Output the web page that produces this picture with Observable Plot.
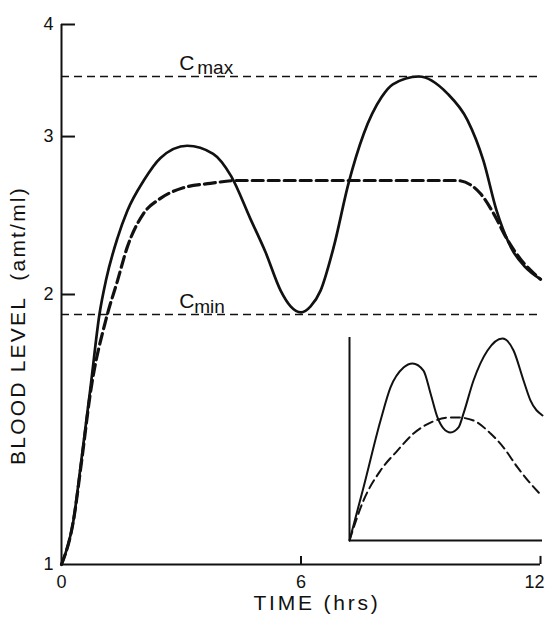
<!DOCTYPE html>
<html><head><meta charset="utf-8">
<script src="https://cdn.jsdelivr.net/npm/d3@7"></script>
<script src="https://cdn.jsdelivr.net/npm/@observablehq/plot@0.6"></script>
<style>
body{margin:0;background:#fff}
#wrap{position:relative;width:548px;height:619px;background:#fff}
#inset{position:absolute;left:349px;top:337px}
</style>
</head><body><div id="wrap"><div id="main"></div><div id="inset"></div></div>
<script>
// ---- data ----
const solidT = [0, 0.3, 0.5, 0.73, 0.95, 1.12, 1.4, 1.65, 2.06, 2.48, 3.15, 3.8, 4.25, 4.73, 5.11, 5.49, 5.74, 6.0, 6.24, 6.49, 6.82, 7.19, 7.57, 8.02, 8.3, 8.95, 9.67, 10.17, 10.57, 10.9, 11.3, 11.6, 12];
const solidV = [1.0, 1.12, 1.31, 1.58, 1.90, 2.08, 2.31, 2.48, 2.68, 2.84, 2.93, 2.87, 2.71, 2.43, 2.23, 2.02, 1.94, 1.91, 1.94, 2.02, 2.26, 2.66, 3.02, 3.32, 3.43, 3.50, 3.35, 3.13, 2.82, 2.48, 2.24, 2.15, 2.08];
const dashT = [0, 0.3, 0.5, 0.73, 1.12, 1.4, 1.65, 2.05, 2.48, 3.05, 3.73, 4.4, 5, 6, 7, 8, 9, 9.9, 10.25, 10.5, 10.83, 11.15, 11.5, 12];
const dashV = [1.0, 1.12, 1.30, 1.56, 1.88, 2.07, 2.26, 2.46, 2.56, 2.63, 2.66, 2.68, 2.68, 2.68, 2.68, 2.68, 2.68, 2.68, 2.65, 2.59, 2.46, 2.31, 2.19, 2.08];
const cMax = 3.5, cMin = 1.9;
const levelNames = ["C", "max", "min"];
const yLabels = [1, 2, 3, 4];
const yTickMarks = [2, 3, 4];
const xLabels = [0, 6, 12];
const xTickMarks = [6, 12];
const xTitle = "TIME (hrs)";
const yTitle = "BLOOD LEVEL  (amt/ml)";
const labelT = 2.95;
// inset (arbitrary units, unlabelled)
const insetSolidT = [0, 0.87, 1.93, 2.55, 3.36, 3.92, 4.6, 5.04, 5.47, 5.84, 6.28, 6.78, 7.09, 7.71, 8.58, 9.51, 10.2, 10.82, 11.25, 12];
const insetSolidV = [0, 26.1, 59.1, 75.4, 85.2, 87.2, 83.7, 72.4, 60.6, 55.2, 53.2, 55.7, 62.6, 78.8, 93.6, 99.5, 93.6, 78.8, 69, 61.6];
const insetDashT = [0, 0.87, 1.93, 2.98, 3.98, 5.04, 6.28, 6.72, 7.71, 8.77, 9.58, 10.45, 11.25, 11.81];
const insetDashV = [0, 19.7, 34.5, 44.3, 52.7, 58.1, 60.6, 60.6, 59.1, 52.7, 45.8, 36, 28.1, 23.2];

const zip = (T, V) => T.map((t, i) => ({t, v: V[i]}));
const solid = zip(solidT, solidV);
const dashed = zip(dashT, dashV);
const font = "Liberation Sans, Arial, sans-serif";
const ink = "#111";
const yTickLen = 0.35;   // inward tick length (hours)
const xTickTop = 1.021;  // inward tick top (log units)

const main = Plot.plot({
  width: 548, height: 619,
  marginLeft: 61, marginRight: 8, marginTop: 24, marginBottom: 55,
  style: {fontFamily: font, background: "#fff", color: ink},
  x: {domain: [0, 12]},
  y: {type: "log", domain: [1, 4]},
  marks: [
    Plot.ruleY([cMax, cMin], {stroke: ink, strokeWidth: 1.3, strokeDasharray: "8,5"}),
    Plot.line(dashed, {x: "t", y: "v", curve: "monotone-x", stroke: ink, strokeWidth: 3.2, strokeDasharray: "11,5"}),
    Plot.line(solid, {x: "t", y: "v", curve: "monotone-x", stroke: ink, strokeWidth: 2.7}),
    Plot.ruleX([0], {stroke: ink, strokeWidth: 2}),
    Plot.ruleY([1], {stroke: ink, strokeWidth: 2}),
    Plot.ruleY(yTickMarks, {x1: 0, x2: yTickLen, stroke: ink, strokeWidth: 2}),
    Plot.ruleX(xTickMarks, {y1: 1, y2: xTickTop, stroke: ink, strokeWidth: 2}),
    Plot.axisY({ticks: yLabels, tickSize: 0, tickPadding: 8, fontSize: 18, label: null}),
    Plot.axisX({ticks: xLabels, tickSize: 0, tickPadding: 11, fontSize: 18, label: null}),
    Plot.text([levelNames[0]], {x: labelT, y: cMax, dy: -7, fontSize: 21, textAnchor: "start", lineAnchor: "bottom", fill: ink}),
    Plot.text([levelNames[1]], {x: labelT, y: cMax, dx: 18, dy: -3, fontSize: 19, textAnchor: "start", lineAnchor: "bottom", fill: ink}),
    Plot.text([levelNames[0]], {x: labelT, y: cMin, dy: -6, fontSize: 21, textAnchor: "start", lineAnchor: "bottom", fill: ink}),
    Plot.text([levelNames[2]], {x: labelT, y: cMin, dx: 15, dy: -1, fontSize: 19, textAnchor: "start", lineAnchor: "bottom", fill: ink}),
    Plot.text([xTitle], {frameAnchor: "bottom", textAnchor: "middle", dx: 16, dy: 45, fontSize: 21, fill: ink}),
    Plot.text([yTitle], {frameAnchor: "left", textAnchor: "middle", rotate: -90, dx: -43, dy: 31, fontSize: 21, fill: ink})
  ]
});
d3.select(main).selectAll("g[aria-label$='tick label']").attr("font-size", 18).style("font-size", "18px");
d3.select(main).selectAll("text").each(function() {
  const s = this.textContent;
  if (s === xTitle) this.style.letterSpacing = "2.8px";
  if (s === yTitle) this.style.letterSpacing = "2.2px";
  if (s === "12" && this.closest("g[aria-label='x-axis tick label']")) {
    this.setAttribute("text-anchor", "end");
    this.setAttribute("dx", "4");
  }
});
document.getElementById("main").appendChild(main);

const inset = Plot.plot({
  width: 193, height: 203, margin: 0,
  style: {overflow: "visible", background: "transparent"},
  x: {domain: [0, 12], axis: null},
  y: {domain: [0, 100], axis: null},
  marks: [
    Plot.ruleX([0], {stroke: ink, strokeWidth: 2}),
    Plot.ruleY([0], {stroke: ink, strokeWidth: 2}),
    Plot.line(zip(insetDashT, insetDashV), {x: "t", y: "v", curve: "monotone-x", stroke: ink, strokeWidth: 2, strokeDasharray: "9,5"}),
    Plot.line(zip(insetSolidT, insetSolidV), {x: "t", y: "v", curve: "monotone-x", stroke: ink, strokeWidth: 2})
  ]
});
document.getElementById("inset").appendChild(inset);
</script>
</body></html>
